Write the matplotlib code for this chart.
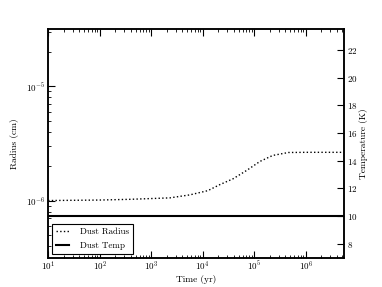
import numpy as np
import matplotlib
matplotlib.use('Agg')
import matplotlib.pyplot as plt

plt.rcParams['font.family'] = 'serif'
plt.rcParams['font.serif'] = ['cmr10']
plt.rcParams['mathtext.fontset'] = 'cm'
plt.rcParams['axes.formatter.use_mathtext'] = True
plt.rcParams['axes.unicode_minus'] = True

# tempo in anni, raggio della polvere in cm, temperatura in K
tempo = [1e1, 1e2, 3.9e2, 2.3e3, 5.6e3, 1.26e4, 2.1e4, 3.9e4, 7.1e4,
         1.3e5, 2.3e5, 4.6e5, 1e6, 5.5e6]
raggio = [1.0e-6, 1.01e-6, 1.025e-6, 1.055e-6, 1.12e-6, 1.22e-6, 1.37e-6, 1.55e-6,
          1.83e-6, 2.2e-6, 2.48e-6, 2.63e-6, 2.64e-6, 2.64e-6]
temperatura = [10, 10, 10, 10, 10, 10, 10, 10, 10, 10, 10, 10, 10, 10]

fig, ax = plt.subplots(figsize=(3.82, 2.87), dpi=100)
fig.subplots_adjust(left=0.126, right=0.9, bottom=0.102, top=0.899)

l1, = ax.plot(tempo, raggio, ':', color='black', lw=1.0, label='Dust Radius')
ax.set_xscale('log')
ax.set_yscale('log')
ax.set_xlim(10, 5.5e6)
ax.set_ylim(10**-6.5, 10**-4.5)
ax.set_xlabel('Time (yr)', fontsize=6.8, labelpad=1)
ax.set_ylabel('Radius (cm)', fontsize=6.8, labelpad=5)
ax.tick_params(which='both', direction='in', top=True, labelsize=6.5)
ax.tick_params(axis='x', which='major', length=5, pad=1.5)
ax.tick_params(axis='y', which='major', length=5, pad=2)
ax.tick_params(which='minor', length=2.5)

ax2 = ax.twinx()
l2, = ax2.plot(tempo, temperatura, '-', color='black', lw=1.5, label='Dust Temp')
ax2.set_ylim(7, 23.5)
ax2.set_yticks([8, 10, 12, 14, 16, 18, 20, 22])
ax2.set_ylabel('Temperature (K)', fontsize=6.8, labelpad=1)
ax2.tick_params(direction='in', length=5, pad=2, labelsize=6.5)

leg = ax.legend(handles=[l1, l2], loc='lower left', fontsize=6.5, fancybox=False,
                edgecolor='black', framealpha=1, handlelength=1.5,
                handletextpad=1.2, borderaxespad=0.45, labelspacing=0.6)
leg.get_frame().set_linewidth(0.8)

for a in (ax, ax2):
    for s in a.spines.values():
        s.set_linewidth(1.1)

plt.savefig('out.png', dpi=100)
